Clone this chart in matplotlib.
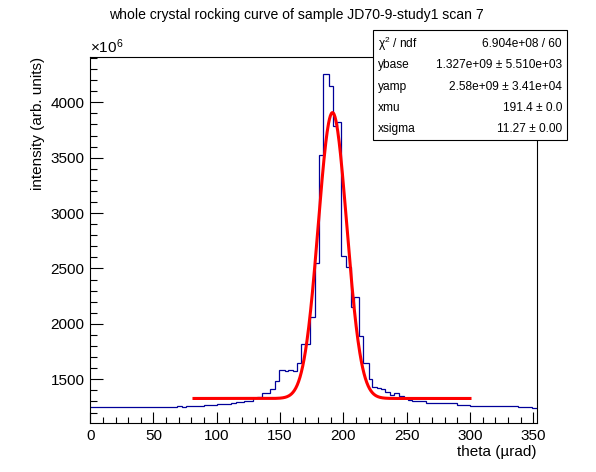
import numpy as np
import matplotlib
matplotlib.use("Agg")
import matplotlib.pyplot as plt
from matplotlib.ticker import MultipleLocator

plt.rcParams['font.family'] = ['Liberation Sans', 'DejaVu Sans']
plt.rcParams['mathtext.fontset'] = 'custom'
plt.rcParams['mathtext.rm'] = 'Liberation Sans'
plt.rcParams['mathtext.it'] = 'Liberation Sans:italic'

# histogram bin edges (theta, urad) and contents (x 1e6)
edges = [0, 68.8, 72.3, 75.7, 89.9, 100.4, 111.2, 115.2, 121.5, 128.6,
         132.0, 136.1, 142.3, 146.2, 149.4, 153.9, 156.2, 160.0, 163.6, 166.7,
         173.6, 177.8, 181.0, 184.1, 188.4, 191.5, 194.9, 198.3, 202.1, 205.8,
         208.4, 212.6, 215.7, 220.0, 222.8, 226.3, 229.9, 233.1, 236.8, 240.0,
         243.9, 247.6, 251.3, 254.4, 265.0, 289.5, 300.0, 338.2, 348.7, 352.7]
counts = [1247, 1256, 1247, 1256, 1265, 1274, 1283, 1292, 1301, 1328,
          1343, 1374, 1410, 1485, 1581, 1572, 1581, 1575, 1647, 1819,
          2060, 2547, 3522, 4253, 4147, 3783, 3819, 2610, 2516, 2155,
          2240, 1891, 1647, 1500, 1428, 1419, 1410, 1383, 1358, 1374,
          1352, 1334, 1313, 1304, 1286, 1268, 1256, 1247, 1238]

# fit result (gaussian + constant)
ybase = 1327.0
yamp = 2580.0
xmu = 191.4
xsigma = 11.27
fit_lo, fit_hi = 82.0, 300.0

stats_names = ["\u03c7$^{2}$ / ndf", "ybase", "yamp", "xmu", "xsigma"]
stats_values = ["6.904e+08 / 60", "1.327e+09 \u00b1 5.510e+03",
                "2.58e+09 \u00b1 3.41e+04", "191.4 \u00b1 0.0", "11.27 \u00b1 0.00"]

fig = plt.figure(figsize=(5.96, 4.72), dpi=100)
ax = fig.add_axes([90.2 / 596, 1 - 423 / 472, (536.7 - 90.2) / 596, (423 - 57) / 472])

ax.stairs(counts, edges, baseline=None, color="#000099", lw=0.9)

xf = np.linspace(fit_lo, fit_hi, 600)
yf = ybase + yamp * np.exp(-0.5 * ((xf - xmu) / xsigma) ** 2)
ax.plot(xf, yf, color="red", lw=2.2)

ax.set_xlim(0, 352.7)
ax.set_ylim(1105.6, 4408.8)
ax.xaxis.set_major_locator(MultipleLocator(50))
ax.xaxis.set_minor_locator(MultipleLocator(10))
ax.yaxis.set_major_locator(MultipleLocator(500))
ax.yaxis.set_minor_locator(MultipleLocator(100))
ax.tick_params(which="both", direction="in", top=False, right=False, labelsize=11, width=0.8)
ax.tick_params(axis="x", which="major", length=7.9, pad=4)
ax.tick_params(axis="x", which="minor", length=4.0)
ax.tick_params(axis="y", which="major", length=9.6, pad=4)
ax.tick_params(axis="y", which="minor", length=4.8)
for s in ax.spines.values():
    s.set_linewidth(0.8)

ax.set_xlabel("theta (\u00b5rad)", fontsize=11, loc="right", labelpad=2)
ax.set_ylabel("intensity (arb. units)", fontsize=11, loc="top", labelpad=4)
fig.text(90 / 596, 1 - 47 / 472, r"$\times10^{6}$", fontsize=11, va="center", ha="left")
fig.text(0.497, 1 - 15 / 472, "whole crystal rocking curve of sample JD70-9-study1 scan 7",
         fontsize=10.1, ha="center", va="center")

# stats box
bx0, bx1 = 373 / 596, 567 / 596
by0, by1 = 1 - 140 / 472, 1 - 30 / 472
fig.patches.append(plt.Rectangle((bx0, by0), bx1 - bx0, by1 - by0, transform=fig.transFigure,
                                 facecolor="white", edgecolor="black", lw=0.8, zorder=5))
for i, (n, v) in enumerate(zip(stats_names, stats_values)):
    yy = 1 - (44 + i * 21.3) / 472
    fig.text(378 / 596, yy, n, fontsize=8.6, ha="left", va="center", zorder=6)
    fig.text(562 / 596, yy, v, fontsize=8.6, ha="right", va="center", zorder=6)

fig.savefig("out.png", dpi=100)
